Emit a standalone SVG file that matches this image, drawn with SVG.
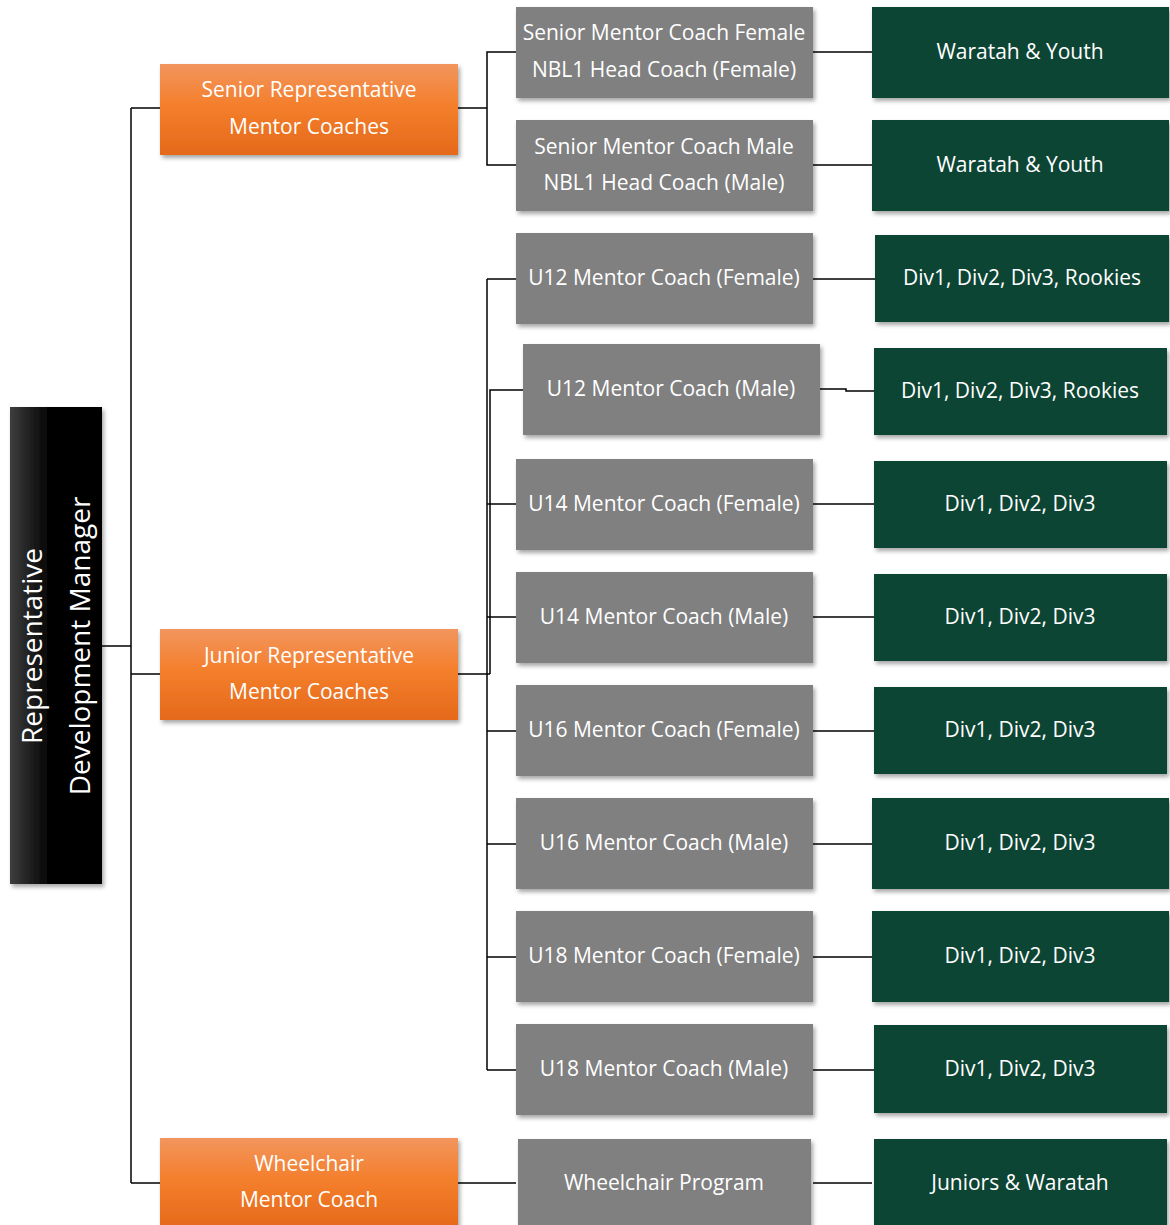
<svg xmlns="http://www.w3.org/2000/svg" width="1170" height="1225" viewBox="0 0 1170 1225">
<defs>
  <linearGradient id="gOrange" x1="0" y1="0" x2="0" y2="1">
    <stop offset="0" stop-color="#f2955e"/>
    <stop offset="0.45" stop-color="#f47f2c"/>
    <stop offset="1" stop-color="#e5691a"/>
  </linearGradient>
  <linearGradient id="gBlack" x1="0" y1="0" x2="1" y2="0">
    <stop offset="0" stop-color="#3e3e3e"/>
    <stop offset="0.2" stop-color="#222"/>
    <stop offset="0.45" stop-color="#000"/>
    <stop offset="1" stop-color="#000"/>
  </linearGradient>
  <filter id="sh" x="-10%" y="-10%" width="125%" height="130%">
    <feDropShadow dx="2" dy="3" stdDeviation="2" flood-color="#000" flood-opacity="0.35"/>
  </filter>
</defs>
<style>
  text { font-family: "Open Sans", "Noto Sans", sans-serif; fill: #fff; text-anchor: middle; dominant-baseline: central; font-size: 21px; }
  .orange { fill: url(#gOrange); filter: url(#sh); }
  .gray { fill: #808080; filter: url(#sh); }
  .green { fill: #0c4536; filter: url(#sh); }
  .conn line, .conn polyline { stroke: #000; stroke-width: 1.5; fill: none; }
  .big { font-size: 28px; }
</style>
<rect width="1170" height="1225" fill="#fff"/>

<g class="conn" id="connectors">
  <line x1="102" y1="646" x2="131" y2="646"/>
  <line x1="131" y1="108" x2="131" y2="1183"/>
  <line x1="131" y1="108" x2="160" y2="108"/>
  <line x1="131" y1="674" x2="160" y2="674"/>
  <line x1="131" y1="1183" x2="160" y2="1183"/>
  <line x1="458" y1="108" x2="487" y2="108"/>
  <polyline points="516,52 487,52 487,165 516,165"/>
  <line x1="813" y1="52" x2="872" y2="52"/>
  <line x1="813" y1="165" x2="872" y2="165"/>
  <line x1="458" y1="674" x2="490" y2="674"/>
  <line x1="487" y1="279" x2="487" y2="1070"/>
  <polyline points="523,390 490,390 490,674"/>
  <line x1="487" y1="279" x2="516" y2="279"/>
  <line x1="487" y1="504" x2="516" y2="504"/>
  <line x1="487" y1="617" x2="516" y2="617"/>
  <line x1="487" y1="731" x2="516" y2="731"/>
  <line x1="487" y1="844" x2="516" y2="844"/>
  <line x1="487" y1="957" x2="516" y2="957"/>
  <line x1="487" y1="1070" x2="516" y2="1070"/>
  <line x1="813" y1="279" x2="875" y2="279"/>
  <polyline points="820,389 846,389 846,391 874,391"/>
  <line x1="813" y1="504" x2="874" y2="504"/>
  <line x1="813" y1="617" x2="874" y2="617"/>
  <line x1="813" y1="731" x2="874" y2="731"/>
  <line x1="813" y1="844" x2="872" y2="844"/>
  <line x1="813" y1="957" x2="872" y2="957"/>
  <line x1="813" y1="1070" x2="874" y2="1070"/>
  <line x1="458" y1="1183" x2="516" y2="1183"/>
  <line x1="813" y1="1183" x2="872" y2="1183"/>
</g>

<g id="n-manager">
  <rect x="10" y="407" width="92" height="477" fill="url(#gBlack)" filter="url(#sh)"/>
  <text class="big" transform="translate(31 646) rotate(-90)">Representative</text>
  <text class="big" transform="translate(79 646) rotate(-90)">Development Manager</text>
</g>

<g id="n-senior-rep">
  <rect class="orange" x="160" y="64" width="298" height="91"/>
  <text x="309" y="89">Senior Representative</text>
  <text x="309" y="126">Mentor Coaches</text>
</g>
<g id="n-junior-rep">
  <rect class="orange" x="160" y="629" width="298" height="91"/>
  <text x="309" y="655">Junior Representative</text>
  <text x="309" y="691">Mentor Coaches</text>
</g>
<g id="n-wheelchair-rep">
  <rect class="orange" x="160" y="1138" width="298" height="91"/>
  <text x="309" y="1163">Wheelchair</text>
  <text x="309" y="1199">Mentor Coach</text>
</g>

<g id="n-sen-f">
  <rect class="gray" x="516" y="7" width="297" height="91"/>
  <text x="664" y="32">Senior Mentor Coach Female</text>
  <text x="664" y="69">NBL1 Head Coach (Female)</text>
</g>
<g id="n-sen-m">
  <rect class="gray" x="516" y="120" width="297" height="91"/>
  <text x="664" y="146">Senior Mentor Coach Male</text>
  <text x="664" y="182">NBL1 Head Coach (Male)</text>
</g>
<g id="n-u12f"><rect class="gray" x="516" y="233" width="297" height="91"/><text x="664" y="277">U12 Mentor Coach (Female)</text></g>
<g id="n-u12m"><rect class="gray" x="523" y="344" width="297" height="91"/><text x="671" y="388">U12 Mentor Coach (Male)</text></g>
<g id="n-u14f"><rect class="gray" x="516" y="459" width="297" height="91"/><text x="664" y="503">U14 Mentor Coach (Female)</text></g>
<g id="n-u14m"><rect class="gray" x="516" y="572" width="297" height="91"/><text x="664" y="616">U14 Mentor Coach (Male)</text></g>
<g id="n-u16f"><rect class="gray" x="516" y="685" width="297" height="91"/><text x="664" y="729">U16 Mentor Coach (Female)</text></g>
<g id="n-u16m"><rect class="gray" x="516" y="798" width="297" height="91"/><text x="664" y="842">U16 Mentor Coach (Male)</text></g>
<g id="n-u18f"><rect class="gray" x="516" y="911" width="297" height="91"/><text x="664" y="955">U18 Mentor Coach (Female)</text></g>
<g id="n-u18m"><rect class="gray" x="516" y="1024" width="297" height="91"/><text x="664" y="1068">U18 Mentor Coach (Male)</text></g>
<g id="n-wprog"><rect class="gray" x="518" y="1139" width="293" height="91"/><text x="664" y="1182">Wheelchair Program</text></g>

<g id="d-sen-f"><rect class="green" x="872" y="7" width="297" height="91"/><text x="1020" y="51">Waratah &amp; Youth</text></g>
<g id="d-sen-m"><rect class="green" x="872" y="120" width="297" height="91"/><text x="1020" y="164">Waratah &amp; Youth</text></g>
<g id="d-u12f"><rect class="green" x="875" y="235" width="294" height="87"/><text x="1022" y="277">Div1, Div2, Div3, Rookies</text></g>
<g id="d-u12m"><rect class="green" x="874" y="348" width="293" height="87"/><text x="1020" y="390">Div1, Div2, Div3, Rookies</text></g>
<g id="d-u14f"><rect class="green" x="874" y="461" width="293" height="87"/><text x="1020" y="503">Div1, Div2, Div3</text></g>
<g id="d-u14m"><rect class="green" x="874" y="574" width="293" height="87"/><text x="1020" y="616">Div1, Div2, Div3</text></g>
<g id="d-u16f"><rect class="green" x="874" y="687" width="293" height="87"/><text x="1020" y="729">Div1, Div2, Div3</text></g>
<g id="d-u16m"><rect class="green" x="872" y="798" width="297" height="91"/><text x="1020" y="842">Div1, Div2, Div3</text></g>
<g id="d-u18f"><rect class="green" x="872" y="911" width="297" height="91"/><text x="1020" y="955">Div1, Div2, Div3</text></g>
<g id="d-u18m"><rect class="green" x="874" y="1025" width="293" height="88"/><text x="1020" y="1068">Div1, Div2, Div3</text></g>
<g id="d-wprog"><rect class="green" x="874" y="1139" width="293" height="91"/><text x="1020" y="1182">Juniors &amp; Waratah</text></g>
</svg>
